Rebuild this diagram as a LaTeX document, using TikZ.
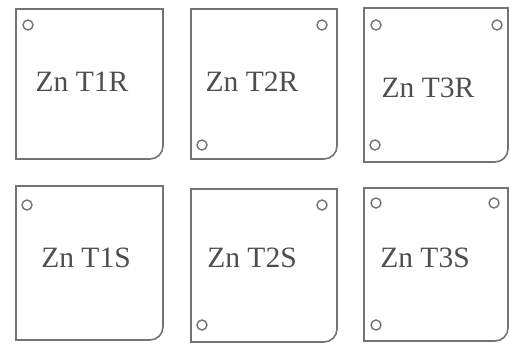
\documentclass[tikz,border=0pt]{standalone}
\usepackage{fontspec}
\setmainfont{Liberation Serif}
\usepackage{tikz}
\definecolor{plategray}{HTML}{737373}
\definecolor{labelgray}{HTML}{4E4E4E}

\begin{document}
\begin{tikzpicture}[plate/.style={draw=plategray,line width=0.9pt},
  hole/.style={draw=plategray,line width=0.8pt},
  tag/.style={text=labelgray,font=\fontsize{16.8}{20}\selectfont,inner sep=0pt}]
\useasboundingbox (0,0) rectangle (10.2,6.9);
% top row: R plates
\draw[plate] (0.32,3.72) -- (0.32,6.72) -- (3.26,6.72) -- (3.26,3.98) arc[start angle=0,end angle=-90,radius=0.26cm] -- cycle;
\draw[plate] (3.82,3.72) -- (3.82,6.72) -- (6.74,6.72) -- (6.74,3.98) arc[start angle=0,end angle=-90,radius=0.26cm] -- cycle;
\draw[plate] (7.28,3.66) -- (7.28,6.74) -- (10.16,6.74) -- (10.16,3.92) arc[start angle=0,end angle=-90,radius=0.26cm] -- cycle;
\draw[hole] (0.56,6.40) circle (0.1);
\draw[hole] (6.44,6.40) circle (0.1);
\draw[hole] (4.04,4.00) circle (0.1);
\draw[hole] (7.52,6.40) circle (0.1);
\draw[hole] (9.94,6.40) circle (0.1);
\draw[hole] (7.50,4.00) circle (0.1);
\node[tag] (t1r) at (1.64,5.26) {Zn T1R};
\node[tag] (t2r) at (5.04,5.26) {Zn T2R};
\node[tag] (t3r) at (8.56,5.14) {Zn T3R};
% bottom row: S plates
\draw[plate] (0.32,0.10) -- (0.32,3.18) -- (3.26,3.18) -- (3.26,0.36) arc[start angle=0,end angle=-90,radius=0.26cm] -- cycle;
\draw[plate] (3.82,0.06) -- (3.82,3.12) -- (6.74,3.12) -- (6.74,0.32) arc[start angle=0,end angle=-90,radius=0.26cm] -- cycle;
\draw[plate] (7.28,0.08) -- (7.28,3.14) -- (10.16,3.14) -- (10.16,0.34) arc[start angle=0,end angle=-90,radius=0.26cm] -- cycle;
\draw[hole] (0.54,2.80) circle (0.1);
\draw[hole] (6.44,2.80) circle (0.1);
\draw[hole] (4.04,0.40) circle (0.1);
\draw[hole] (7.52,2.84) circle (0.1);
\draw[hole] (9.88,2.84) circle (0.1);
\draw[hole] (7.52,0.40) circle (0.1);
\node[tag] (t1s) at (1.72,1.74) {Zn T1S};
\node[tag] (t2s) at (5.04,1.74) {Zn T2S};
\node[tag] (t3s) at (8.50,1.74) {Zn T3S};
\end{tikzpicture}
\end{document}
